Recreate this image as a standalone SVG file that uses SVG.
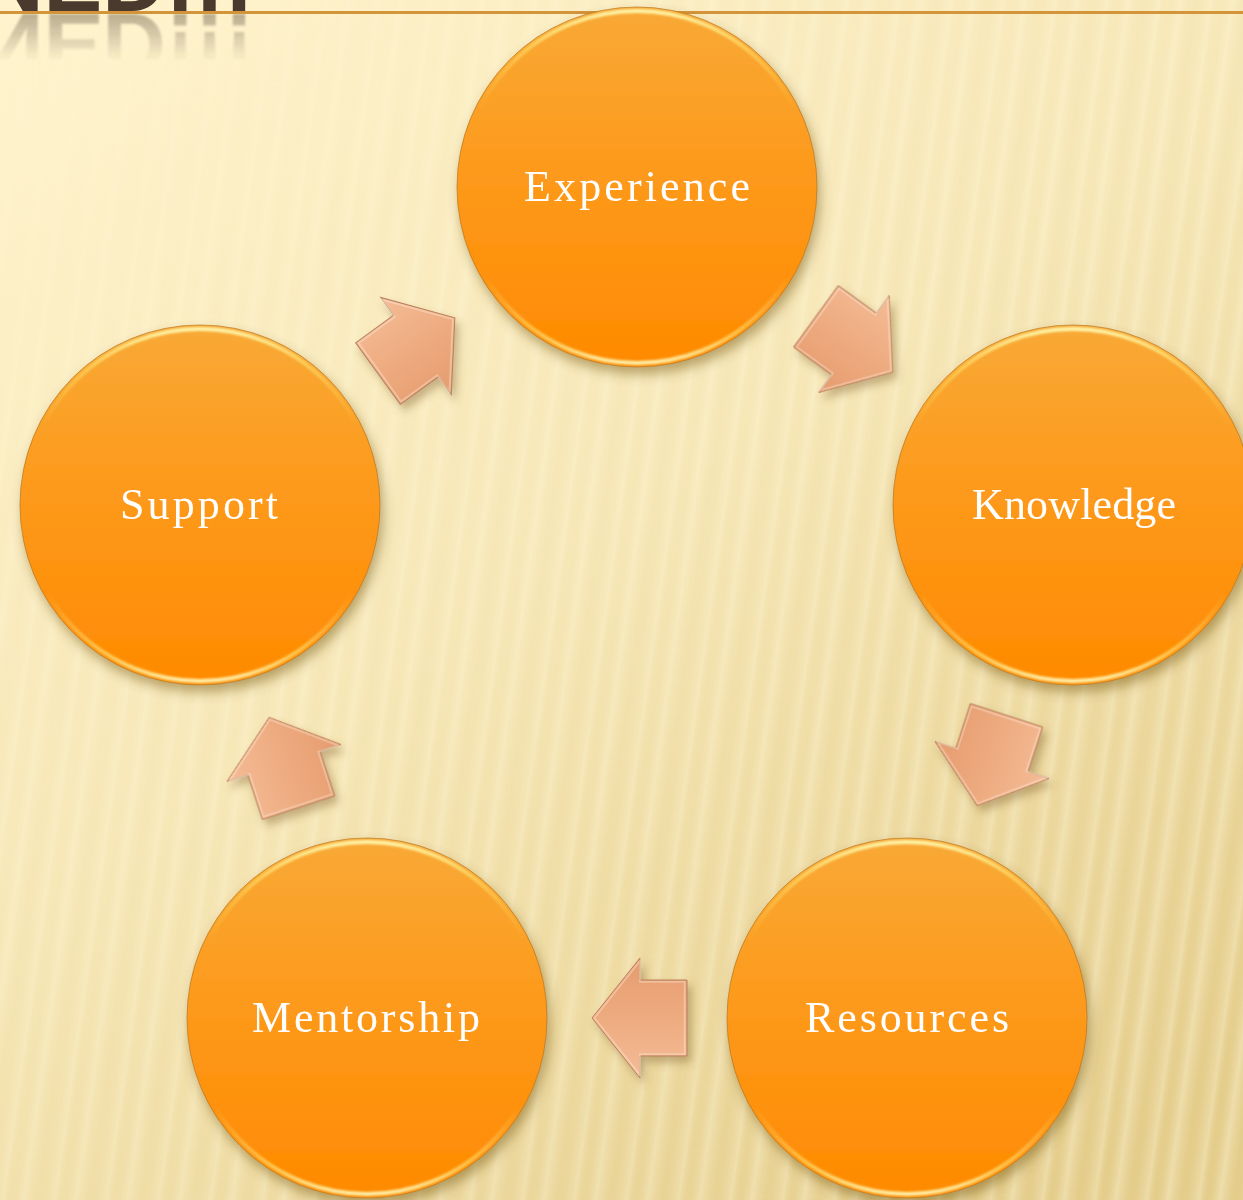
<svg xmlns="http://www.w3.org/2000/svg" width="1243" height="1200" viewBox="0 0 1243 1200">
  <defs>
    <linearGradient id="bg" x1="0.15" y1="0" x2="0.85" y2="1">
      <stop offset="0" stop-color="#fef3cc"/>
      <stop offset="0.45" stop-color="#f9eabb"/>
      <stop offset="1" stop-color="#e6cf8d"/>
    </linearGradient>
    <linearGradient id="stripeTile" x1="0" y1="0" x2="1" y2="0">
      <stop offset="0" stop-color="#d8bd78" stop-opacity="0.16"/>
      <stop offset="0.3" stop-color="#fffbe8" stop-opacity="0.35"/>
      <stop offset="0.45" stop-color="#d8bd78" stop-opacity="0.1"/>
      <stop offset="0.7" stop-color="#fffbe8" stop-opacity="0.4"/>
      <stop offset="1" stop-color="#d8bd78" stop-opacity="0.16"/>
    </linearGradient>
    <pattern id="stripes" width="52" height="1200" patternUnits="userSpaceOnUse" patternTransform="skewX(-8)">
      <rect width="52" height="1200" fill="url(#stripeTile)"/>
    </pattern>
    <linearGradient id="stripeFade" x1="0" y1="0" x2="1" y2="1">
      <stop offset="0" stop-color="#fff" stop-opacity="0"/>
      <stop offset="0.3" stop-color="#fff" stop-opacity="0.35"/>
      <stop offset="1" stop-color="#fff" stop-opacity="0.9"/>
    </linearGradient>
    <mask id="stripeMask">
      <rect width="1243" height="1200" fill="url(#stripeFade)"/>
    </mask>
    <linearGradient id="reflGrad" gradientUnits="userSpaceOnUse" x1="0" y1="12" x2="0" y2="-35">
      <stop offset="0" stop-color="#4a3a2e" stop-opacity="0.38"/>
      <stop offset="1" stop-color="#4a3a2e" stop-opacity="0"/>
    </linearGradient>
    <linearGradient id="orb" x1="0" y1="0" x2="0" y2="1">
      <stop offset="0" stop-color="#f8a936"/>
      <stop offset="0.45" stop-color="#fd9a1c"/>
      <stop offset="1" stop-color="#ff8a00"/>
    </linearGradient>
    <linearGradient id="rim" x1="0" y1="0" x2="0" y2="1">
      <stop offset="0" stop-color="#fff4a8" stop-opacity="1"/>
      <stop offset="0.1" stop-color="#ffdc66" stop-opacity="0.7"/>
      <stop offset="0.28" stop-color="#ffd050" stop-opacity="0"/>
      <stop offset="0.75" stop-color="#ffe070" stop-opacity="0"/>
      <stop offset="0.93" stop-color="#ffe27a" stop-opacity="0.7"/>
      <stop offset="1" stop-color="#fff3b0" stop-opacity="0.95"/>
    </linearGradient>
    <linearGradient id="arrowFill" gradientUnits="userSpaceOnUse" x1="0" y1="-60" x2="0" y2="60">
      <stop offset="0" stop-color="#f4bc96"/>
      <stop offset="0.5" stop-color="#eeab80"/>
      <stop offset="1" stop-color="#e59c6e"/>
    </linearGradient>
    <filter id="cshadow" x="-20%" y="-20%" width="145%" height="150%">
      <feDropShadow dx="3" dy="7" stdDeviation="6" flood-color="#6b4a10" flood-opacity="0.45"/>
    </filter>
    <filter id="ashadow" x="-40%" y="-40%" width="190%" height="190%">
      <feDropShadow dx="4" dy="6" stdDeviation="4" flood-color="#7a5a20" flood-opacity="0.4"/>
    </filter>
    <filter id="soft" x="-10%" y="-10%" width="120%" height="120%">
      <feGaussianBlur stdDeviation="1.2"/>
    </filter>
    <filter id="reflBlur" x="-5%" y="-20%" width="110%" height="140%">
      <feGaussianBlur stdDeviation="1"/>
    </filter>
    <path id="arrowShape" d="M -47,-38 L 0,-38 L 0,-60 L 48,0 L 0,60 L 0,38 L -47,38 Z"/>
  </defs>
  <style>
    .orb { fill: url(#orb); stroke: #b8741c; stroke-width: 1; stroke-opacity: 0.7; }
    .rim { fill: none; stroke: url(#rim); stroke-width: 4; filter: url(#soft); }
    .label { font-family: "Liberation Serif", "DejaVu Serif", serif; font-size: 44px; fill: #ffffff; text-anchor: middle; }
    .arrow { fill: url(#arrowFill); stroke: #b9805a; stroke-width: 1; }
    .bevel { fill: none; stroke: #fff4e8; stroke-opacity: 0.35; stroke-width: 2; }
    .title { font-family: "Liberation Sans", "DejaVu Sans", sans-serif; font-weight: bold; font-size: 88px; }
  </style>

  <!-- background -->
  <rect width="1243" height="1200" fill="url(#bg)"/>
  <rect width="1243" height="1200" fill="url(#stripes)" mask="url(#stripeMask)"/>

  <!-- title fragment -->
  <g id="title">
    <text class="title" x="-20" y="11" fill="#4a3a2e">NED!!!</text>
    <g transform="matrix(1,0,0,-1,0,26)" filter="url(#reflBlur)">
      <text class="title" x="-20" y="12" fill="url(#reflGrad)">NED!!!</text>
    </g>
    <line x1="0" y1="12.5" x2="1243" y2="12.5" stroke="#d4953a" stroke-width="3"/>
  </g>

  <!-- connectors -->
  <g id="connectors" filter="url(#ashadow)">
    <g transform="translate(416,346) rotate(-36)"><use href="#arrowShape" class="arrow"/><use href="#arrowShape" class="bevel" transform="scale(0.95)"/></g>
    <g transform="translate(854,344) rotate(36)"><use href="#arrowShape" class="arrow"/><use href="#arrowShape" class="bevel" transform="scale(0.95)"/></g>
    <g transform="translate(992,760) rotate(108)"><use href="#arrowShape" class="arrow"/><use href="#arrowShape" class="bevel" transform="scale(0.95)"/></g>
    <g transform="translate(640,1018) rotate(180)"><use href="#arrowShape" class="arrow"/><use href="#arrowShape" class="bevel" transform="scale(0.95)"/></g>
    <g transform="translate(284,763) rotate(-108)"><use href="#arrowShape" class="arrow"/><use href="#arrowShape" class="bevel" transform="scale(0.95)"/></g>
  </g>

  <!-- nodes -->
  <g id="node-experience">
    <circle cx="637" cy="187" r="180" class="orb" filter="url(#cshadow)"/>
    <circle cx="637" cy="187" r="176" class="rim"/>
    <text class="label" x="637" y="201" textLength="226" lengthAdjust="spacing">Experience</text>
  </g>
  <g id="node-knowledge">
    <circle cx="1073" cy="505" r="180" class="orb" filter="url(#cshadow)"/>
    <circle cx="1073" cy="505" r="176" class="rim"/>
    <text class="label" x="1074" y="519" textLength="204" lengthAdjust="spacing">Knowledge</text>
  </g>
  <g id="node-resources">
    <circle cx="907" cy="1018" r="180" class="orb" filter="url(#cshadow)"/>
    <circle cx="907" cy="1018" r="176" class="rim"/>
    <text class="label" x="907" y="1032" textLength="204" lengthAdjust="spacing">Resources</text>
  </g>
  <g id="node-mentorship">
    <circle cx="367" cy="1018" r="180" class="orb" filter="url(#cshadow)"/>
    <circle cx="367" cy="1018" r="176" class="rim"/>
    <text class="label" x="366" y="1032" textLength="228" lengthAdjust="spacing">Mentorship</text>
  </g>
  <g id="node-support">
    <circle cx="200" cy="505" r="180" class="orb" filter="url(#cshadow)"/>
    <circle cx="200" cy="505" r="176" class="rim"/>
    <text class="label" x="199" y="519" textLength="158" lengthAdjust="spacing">Support</text>
  </g>
</svg>
